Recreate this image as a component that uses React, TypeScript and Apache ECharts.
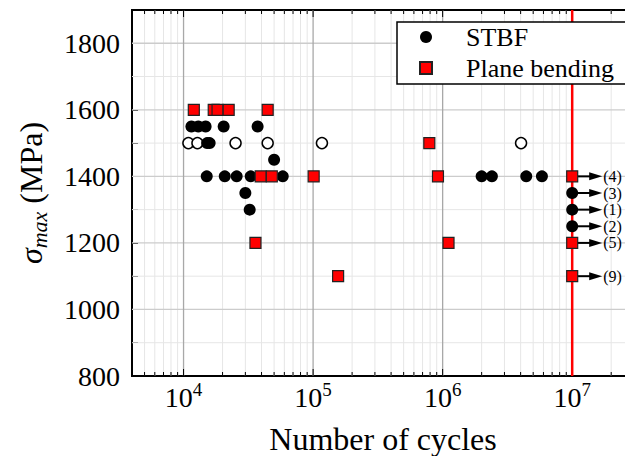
import React, { useEffect, useRef } from 'react';
import * as echarts from 'echarts';

const FONT = '"Liberation Serif", "DejaVu Serif", serif';

// STBF — failed specimens (filled circles)
const stbfN = [1.15e4, 1.3e4, 1.48e4, 2.04e4, 3.73e4, 1.52e4, 1.59e4, 5.0e4, 1.51e4, 2.08e4, 2.57e4, 3.3e4, 5.83e4, 2.0e6, 2.4e6, 4.42e6, 5.84e6, 3.0e4, 3.24e4];
const stbfS = [1550, 1550, 1550, 1550, 1550, 1500, 1500, 1450, 1400, 1400, 1400, 1400, 1400, 1400, 1400, 1400, 1400, 1350, 1300];
// STBF — open circles
const stbfOpenN = [1.09e4, 1.28e4, 2.52e4, 4.46e4, 1.17e5, 4.03e6];
const stbfOpenS = [1500, 1500, 1500, 1500, 1500, 1500];
// Plane bending (red squares)
const planeN = [1.2e4, 1.71e4, 1.83e4, 2.23e4, 4.46e4, 7.89e5, 3.94e4, 4.8e4, 1.01e5, 9.2e5, 3.59e4, 1.11e6, 1.56e5];
const planeS = [1600, 1600, 1600, 1600, 1600, 1500, 1400, 1400, 1400, 1400, 1200, 1200, 1100];
// Run-outs at 1e7 cycles
const runoutN = [1e7, 1e7, 1e7, 1e7, 1e7, 1e7];
const runoutS = [1400, 1350, 1300, 1250, 1200, 1100];
const runoutType = ['plane', 'stbf', 'stbf', 'stbf', 'plane', 'plane'];
const runoutLabels = ['(4)', '(3)', '(1)', '(2)', '(5)', '(9)'];

const enduranceLimit = [1e7];
const xMajorTicks = [1e4, 1e5, 1e6, 1e7];
const xMinorTicks = [5e3, 6e3, 7e3, 8e3, 9e3, 2e4, 3e4, 4e4, 5e4, 6e4, 7e4, 8e4, 9e4, 2e5, 3e5, 4e5, 5e5, 6e5, 7e5, 8e5, 9e5, 2e6, 3e6, 4e6, 5e6, 6e6, 7e6, 8e6, 9e6, 2e7];
const yMajorGrid = [1000, 1200, 1400, 1600, 1800];
const yMinorGrid = [900, 1100, 1300, 1500, 1700];

const X_MIN = 4000;
const X_MAX = 3e7;
const Y_MIN = 800;
const Y_MAX = 1900;

const zip = (a: number[], b: number[]) => a.map((v, i) => [v, b[i]]);

export default function App() {
  const ref = useRef<HTMLDivElement>(null);
  useEffect(() => {
    document.body.style.margin = '0';
    const chart = echarts.init(ref.current!, null, { renderer: 'svg' });

    const vGrid = (color: string, width: number, tickLen: number) => (params: any, api: any) => {
      const v = api.value(0);
      const top = api.coord([v, Y_MAX]);
      const bot = api.coord([v, Y_MIN]);
      return {
        type: 'group',
        children: [
          { type: 'line', shape: { x1: bot[0], y1: bot[1], x2: top[0], y2: top[1] }, style: { stroke: color, lineWidth: width } },
          { type: 'line', shape: { x1: bot[0], y1: bot[1], x2: bot[0], y2: bot[1] - tickLen }, style: { stroke: '#000', lineWidth: 1 } },
          { type: 'line', shape: { x1: top[0], y1: top[1], x2: top[0], y2: top[1] + tickLen }, style: { stroke: '#000', lineWidth: 1 } },
        ],
      };
    };
    const hGrid = (color: string, width: number) => (params: any, api: any) => {
      const v = api.value(1);
      const l = api.coord([X_MIN, v]);
      const r = api.coord([X_MAX, v]);
      return { type: 'line', shape: { x1: l[0], y1: l[1], x2: r[0], y2: r[1] }, style: { stroke: color, lineWidth: width } };
    };

    const squareStyle = { color: '#ff0000', borderColor: '#222', borderWidth: 1.2 };

    chart.setOption({
      animation: false,
      grid: {
        left: 132, width: 502, top: 10, bottom: 80,
        outerBoundsMode: 'none', containLabel: false,
        show: true, borderColor: '#000', borderWidth: 2, backgroundColor: 'transparent',
      },
      legend: {
        left: 397,
        top: 22,
        orient: 'vertical',
        data: [{ name: 'STBF', icon: 'circle' }, { name: 'Plane bending', icon: 'rect' }],
        itemWidth: 12,
        itemHeight: 12,
        itemGap: 5,
        padding: [2, 18, 3, 22],
        backgroundColor: '#fff',
        borderColor: '#000',
        borderWidth: 1.5,
        borderRadius: 0,
        selectedMode: false,
        textStyle: { fontFamily: FONT, fontSize: 26, color: '#000', padding: [0, 0, 0, 29] },
      },
      xAxis: {
        type: 'log',
        logBase: 10,
        min: X_MIN,
        max: X_MAX,
        axisLine: { show: true, lineStyle: { color: '#000', width: 2 } },
        axisTick: { show: false },
        minorTick: { show: false },
        splitLine: { show: false },
        axisLabel: {
          margin: 4,
          formatter: (v: number) => {
            const e = Math.log10(v);
            const r = Math.round(e);
            return Math.abs(e - r) < 1e-6 ? `{b|10}{s|${r}}` : '';
          },
          rich: {
            b: { fontFamily: FONT, fontSize: 28, color: '#000', lineHeight: 34 },
            s: { fontFamily: FONT, fontSize: 19, color: '#000', lineHeight: 24, verticalAlign: 'top' },
          },
        },
        name: 'Number of cycles',
        nameLocation: 'middle',
        nameGap: 47,
        nameTextStyle: { fontFamily: FONT, fontSize: 32, color: '#000' },
      },
      yAxis: {
        type: 'value',
        min: Y_MIN,
        max: Y_MAX,
        interval: 100,
        axisLine: { show: true, lineStyle: { color: '#000', width: 2 } },
        axisTick: { show: true, inside: true, length: 6, lineStyle: { color: '#000', width: 1 } },
        splitLine: { show: false },
        axisLabel: {
          margin: 12,
          fontFamily: FONT,
          fontSize: 28,
          color: '#000',
          formatter: (v: number) => (v % 200 === 0 ? String(v) : ''),
        },
        name: '{i|σ}{s|max}{n| (MPa)}',
        nameLocation: 'middle',
        nameRotate: 90,
        nameGap: 82,
        nameTextStyle: {
          rich: {
            i: { fontFamily: FONT, fontSize: 32, fontStyle: 'italic', color: '#000', lineHeight: 38 },
            s: { fontFamily: FONT, fontSize: 22, fontStyle: 'italic', color: '#000', lineHeight: 22, verticalAlign: 'bottom' },
            n: { fontFamily: FONT, fontSize: 32, color: '#000', lineHeight: 38 },
          },
        },
      },
      series: [
        { type: 'custom', name: 'hMinor', silent: true, z: 1, data: yMinorGrid.map((v) => [X_MIN, v]), renderItem: hGrid('#e6e6e6', 1) },
        { type: 'custom', name: 'vMinor', silent: true, z: 1, data: xMinorTicks.map((v) => [v, Y_MIN]), renderItem: vGrid('#e6e6e6', 1, 4) },
        { type: 'custom', name: 'hMajor', silent: true, z: 1, data: yMajorGrid.map((v) => [X_MIN, v]), renderItem: hGrid('#cccccc', 1.3) },
        { type: 'custom', name: 'vMajor', silent: true, z: 1, data: xMajorTicks.map((v) => [v, Y_MIN]), renderItem: vGrid('#a8a8a8', 1.3, 7) },
        {
          type: 'custom', name: 'limit', silent: true, z: 2,
          data: enduranceLimit.map((v) => [v, Y_MIN]),
          renderItem: (params: any, api: any) => {
            const v = api.value(0);
            const top = api.coord([v, Y_MAX]);
            const bot = api.coord([v, Y_MIN]);
            return { type: 'line', shape: { x1: bot[0], y1: bot[1], x2: top[0], y2: top[1] }, style: { stroke: '#ff0000', lineWidth: 2.5 } };
          },
        },
        {
          type: 'custom', name: 'runoutArrows', silent: true, z: 3,
          data: zip(runoutN, runoutS),
          renderItem: (params: any, api: any) => {
            const p = api.coord([api.value(0), api.value(1)]);
            const x = p[0];
            const y = p[1];
            return {
              type: 'group',
              children: [
                { type: 'line', shape: { x1: x, y1: y, x2: x + 20, y2: y }, style: { stroke: '#000', lineWidth: 2 } },
                { type: 'polygon', shape: { points: [[x + 17, y - 4], [x + 30, y], [x + 17, y + 4]] }, style: { fill: '#000' } },
                {
                  type: 'text',
                  style: { x: x + 31, y: y, text: runoutLabels[params.dataIndex], fill: '#000', fontFamily: FONT, fontSize: 16, lineHeight: 14, align: 'left', verticalAlign: 'middle' },
                },
              ],
            };
          },
        },
        {
          type: 'scatter', name: 'STBF (open)', z: 4, symbol: 'circle', symbolSize: 11,
          itemStyle: { color: '#fff', borderColor: '#000', borderWidth: 1.5, opacity: 1 },
          data: zip(stbfOpenN, stbfOpenS),
        },
        {
          type: 'scatter', name: 'STBF', z: 5, symbol: 'circle', symbolSize: 12,
          itemStyle: { color: '#000', opacity: 1 },
          data: zip(stbfN, stbfS).concat(zip(runoutN, runoutS).filter((_, i) => runoutType[i] === 'stbf')),
        },
        {
          type: 'scatter', name: 'Plane bending', z: 6, symbol: 'rect', symbolSize: 11,
          itemStyle: { ...squareStyle, opacity: 1 },
          data: zip(planeN, planeS).concat(zip(runoutN, runoutS).filter((_, i) => runoutType[i] === 'plane')),
        },
      ],
    });
    return () => chart.dispose();
  }, []);
  return <div ref={ref} style={{ width: 625, height: 456 }} />;
}
